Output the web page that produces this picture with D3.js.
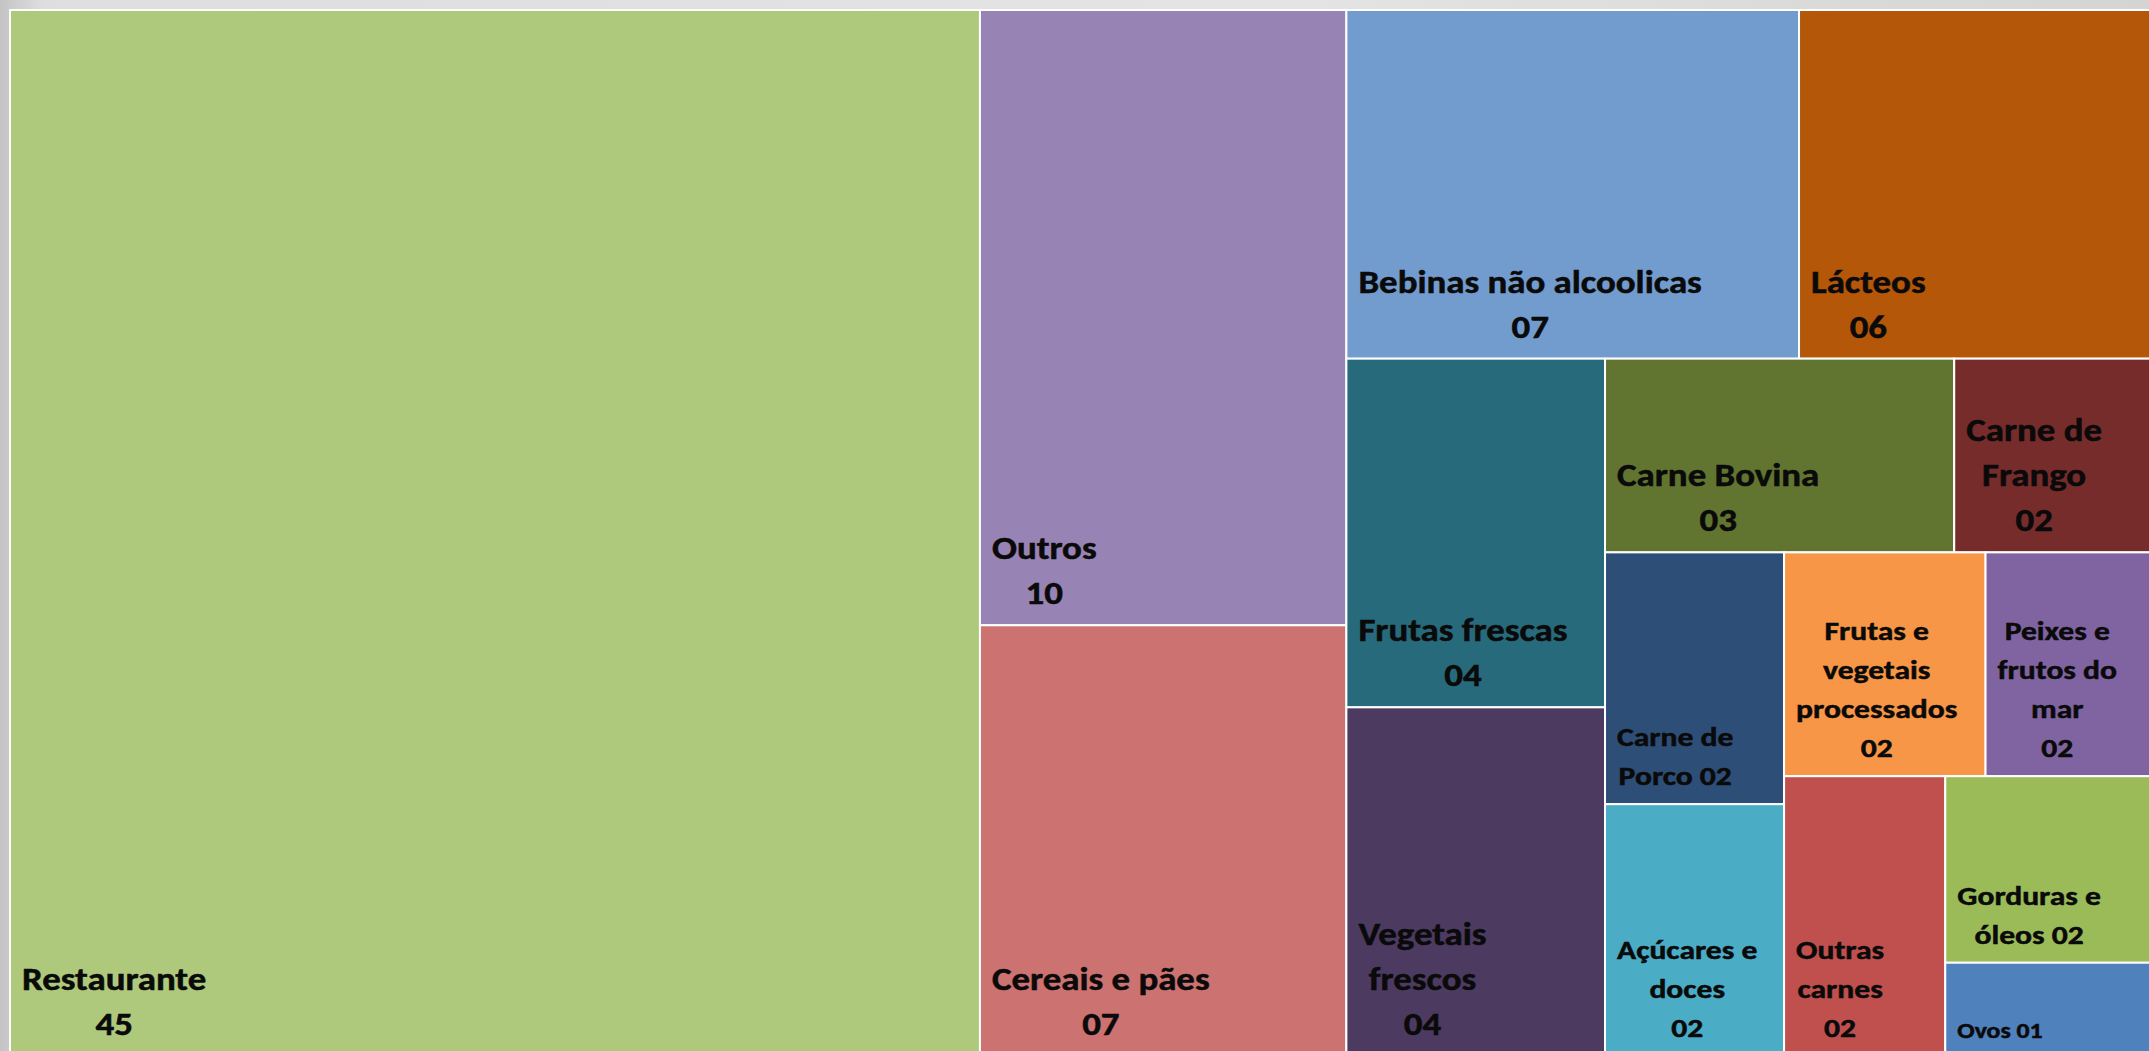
<!DOCTYPE html>
<html>
<head>
<meta charset="utf-8">
<script src="https://cdn.jsdelivr.net/npm/d3@7"></script>
<style>
  html, body { margin: 0; padding: 0; overflow: hidden; background: #d9d9d9; }
  svg { display: block; }
</style>
</head>
<body>
<svg id="chart" width="2149" height="1051"></svg>
<script>
// Food spending shares (line breaks inside a name are where the label wraps)
const categories = [
  "Restaurante", "Outros", "Cereais e pães", "Bebinas não alcoolicas", "Lácteos",
  "Frutas frescas", "Vegetais\nfrescos", "Carne Bovina", "Carne de\nFrango",
  "Carne de\nPorco", "Açúcares e\ndoces", "Frutas e\nvegetais\nprocessados",
  "Peixes e\nfrutos do\nmar", "Outras\ncarnes", "Gorduras e\nóleos", "Ovos"
];
const values = [45, 10, 7, 7, 6, 4, 4, 3, 2, 2, 2, 2, 2, 2, 2, 1];
const colors = [
  "#AFC97C", "#9883B5", "#CC7270", "#729BCE", "#B55708",
  "#276A7B", "#4C3A61", "#617430", "#772C2C",
  "#2D4E77", "#4BACC6", "#F79646",
  "#8064A2", "#C0504D", "#9BBB59", "#4F81BD"
];
// Names whose value sits on the same line as the last word
const inlineValue = ["Carne de\nPorco", "Gorduras e\nóleos", "Ovos"];

const fmt = d3.format("02d");

// Chart frame
const frame = { x: 10, y: 10, w: 2177, h: 1046 };

// Strips of the layout: how many cells each takes and its direction
// ("v" = a column of stacked cells, "h" = a row of side-by-side cells)
const strips = [
  { n: 1, dir: "v" }, { n: 2, dir: "v" }, { n: 2, dir: "h" },
  { n: 2, dir: "v" }, { n: 2, dir: "h" }, { n: 2, dir: "v" },
  { n: 2, dir: "h" }, { n: 1, dir: "v" }, { n: 2, dir: "v" }
];

function stripTile(parent, x0, y0, x1, y1) {
  const nodes = parent.children;
  let remaining = parent.value, i = 0;
  strips.forEach((s, k) => {
    const row = nodes.slice(i, i + s.n);
    i += s.n;
    const sum = d3.sum(row, d => d.value);
    const part = { children: row, value: sum };
    row.forEach(d => { d.strip = k; });
    if (s.dir === "h") {
      const y = y0 + (y1 - y0) * sum / remaining;
      d3.treemapDice(part, x0, y0, x1, y);
      y0 = y;
    } else {
      const x = x0 + (x1 - x0) * sum / remaining;
      d3.treemapSlice(part, x0, y0, x, y1);
      x0 = x;
    }
    remaining -= sum;
  });
}

const data = categories.map((name, i) => ({ name, value: values[i], color: colors[i] }));
const root = d3.hierarchy({ children: data }).sum(d => d.value || 0);
d3.treemap().tile(stripTile).size([frame.w, frame.h])(root);

const svg = d3.select("#chart");

// Backdrop
const defs = svg.append("defs");
const bg = defs.append("linearGradient").attr("id", "bg")
  .attr("x1", "0").attr("y1", "0").attr("x2", "1").attr("y2", "0");
bg.append("stop").attr("offset", "0").attr("stop-color", "#c4c4c4");
bg.append("stop").attr("offset", "0.02").attr("stop-color", "#dedede");
bg.append("stop").attr("offset", "0.6").attr("stop-color", "#e4e4e4");
bg.append("stop").attr("offset", "1").attr("stop-color", "#d4d4d2");
svg.append("rect").attr("width", 2149).attr("height", 1051).attr("fill", "url(#bg)");

const g = svg.append("g").attr("transform", `translate(${frame.x},${frame.y})`);

g.append("rect")
  .attr("x", -1).attr("y", -1)
  .attr("width", frame.w + 2).attr("height", frame.h + 2)
  .attr("fill", "#ffffff");

const cells = g.selectAll("g.cell")
  .data(root.leaves())
  .join("g")
  .attr("class", "cell");

cells.append("rect")
  .attr("x", d => d.x0)
  .attr("y", d => d.y0)
  .attr("width", d => d.x1 - d.x0)
  .attr("height", d => d.y1 - d.y0)
  .attr("fill", d => d.data.color)
  .attr("stroke", "#ffffff")
  .attr("stroke-width", 2);

// Label type is a little wide for its height
const stretch = 1.17;

function labelStyle(d) {
  if (d.value <= 1) return { size: 22, line: 32, gap: 18 };
  if (d.strip >= 5) return { size: 27, line: 39, gap: 19 };
  return { size: 31.5, line: 45, gap: 21 };
}

cells.each(function (d) {
  const st = labelStyle(d);
  const lines = d.data.name.split("\n");
  const v = fmt(d.data.value);
  if (inlineValue.includes(d.data.name)) lines[lines.length - 1] += " " + v;
  else lines.push(v);

  const text = d3.select(this).append("text")
    .attr("font-family", "Carlito, Lato, 'Open Sans', sans-serif")
    .attr("font-weight", 700)
    .attr("font-size", st.size)
    .attr("fill", "#0a0a0a")
    .attr("stroke", "#0a0a0a")
    .attr("stroke-width", 0.5)
    .attr("text-anchor", "middle");

  const baseY = d.y1 - st.gap;
  const spans = lines.map((t, i) => text.append("tspan")
    .attr("x", 0)
    .attr("y", baseY - (lines.length - 1 - i) * st.line)
    .text(t));
  const widest = d3.max(spans, s => s.node().getComputedTextLength()) * stretch;
  const cx = d.x0 + 12 + widest / 2;
  text.attr("transform", `translate(${cx},0) scale(${stretch},1)`);
});
</script>
</body>
</html>
